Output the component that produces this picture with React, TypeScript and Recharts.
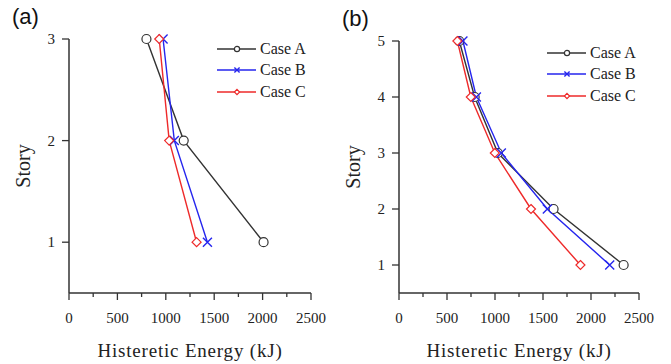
import { LineChart, Line, XAxis, YAxis, Label, Legend } from 'recharts';

// story levels
const storiesA = [1, 2, 3];
const storiesB = [1, 2, 3, 4, 5];

// panel (a) hysteretic energy per story (kJ)
const a_caseA = [2010, 1185, 800];
const a_caseB = [1430, 1088, 972];
const a_caseC = [1318, 1035, 932];

// panel (b)
const b_caseA = [2340, 1610, 1030, 788, 628];
const b_caseB = [2195, 1545, 1066, 806, 666];
const b_caseC = [1890, 1375, 998, 748, 608];

const energyTicks = [0, 250, 500, 750, 1000, 1250, 1500, 1750, 2000, 2250, 2500];
const caseNames = ['Case A', 'Case B', 'Case C'];

const COLORS = ['#333333', '#2525ee', '#ee2a2a'];
const SERIF = '"Liberation Serif", "Times New Roman", serif';
const AXIS = '#333';

const toPoints = (stories: number[], vals: number[]) =>
  stories.map((s, i) => ({ s, e: vals[i] }));

function Marker({ kind, cx, cy, r, color }: any) {
  if (cx == null || cy == null) return null;
  if (kind === 0) {
    return <circle cx={cx} cy={cy} r={r} fill="#fff" stroke={color} strokeWidth={1.2} />;
  }
  if (kind === 1) {
    return (
      <path
        d={`M${cx - r},${cy - r}L${cx + r},${cy + r}M${cx - r},${cy + r}L${cx + r},${cy - r}`}
        stroke={color}
        strokeWidth={1.4}
        fill="none"
      />
    );
  }
  return (
    <path
      d={`M${cx},${cy - r}L${cx + r},${cy}L${cx},${cy + r}L${cx - r},${cy}Z`}
      fill="#fff"
      stroke={color}
      strokeWidth={1.2}
    />
  );
}

function XTick({ x, y, payload }: any) {
  const major = payload.value % 500 === 0;
  return (
    <g>
      <line x1={x} y1={y} x2={x} y2={y + (major ? 7 : 4)} stroke={AXIS} strokeWidth={1.3} />
      {major && (
        <text x={x} y={y + 30} textAnchor="middle" fontSize={15} fontFamily={SERIF} fill="#222">
          {payload.value}
        </text>
      )}
    </g>
  );
}

function YTick({ x, y, payload }: any) {
  return (
    <g>
      <line x1={x - 7} y1={y} x2={x} y2={y} stroke={AXIS} strokeWidth={1.3} />
      <text x={x - 14} y={y + 5} textAnchor="end" fontSize={15} fontFamily={SERIF} fill="#222">
        {payload.value}
      </text>
    </g>
  );
}

function LegendBox() {
  return (
    <div style={{ fontFamily: SERIF, fontSize: 16, color: '#222' }}>
      {caseNames.map((name, i) => (
        <div key={name} style={{ display: 'flex', alignItems: 'center', height: 21.5 }}>
          <svg width={40} height={12} style={{ display: 'block' }}>
            <line x1={0} y1={6} x2={39} y2={6} stroke={COLORS[i]} strokeWidth={1.4} />
            <Marker kind={i} cx={20} cy={6} r={2.6} color={COLORS[i]} />
          </svg>
          <span style={{ marginLeft: 3, whiteSpace: 'nowrap' }}>{name}</span>
        </div>
      ))}
    </div>
  );
}

interface PanelProps {
  tag: string;
  width: number;
  margin: { top: number; right: number; bottom: number; left: number };
  yAxisWidth: number;
  stories: number[];
  series: number[][];
  legendPos: { left: number; top: number };
  tagPos: { left: number; top: number };
}

function Panel({ tag, width, margin, yAxisWidth, stories, series, legendPos, tagPos }: PanelProps) {
  const plotTop = margin.top;
  const plotBottom = 364 - 71;
  const maxStory = stories[stories.length - 1];
  return (
    <div style={{ position: 'relative', width, height: 364 }}>
      <LineChart width={width} height={364} margin={margin}>
        <XAxis
          type="number"
          dataKey="e"
          domain={[0, 2500]}
          ticks={energyTicks}
          interval={0}
          height={71}
          tickSize={0}
          tickMargin={0}
          tickLine={false}
          tick={<XTick />}
          axisLine={{ stroke: AXIS, strokeWidth: 1.5 }}
        >
          <Label
            content={({ viewBox }: any) => (
              <text
                x={viewBox.x + viewBox.width / 2}
                y={357}
                textAnchor="middle"
                fontSize={19}
                letterSpacing={0.8}
                fontFamily={SERIF}
                fill="#222"
              >
                Histeretic Energy (kJ)
              </text>
            )}
          />
        </XAxis>
        <YAxis
          type="number"
          dataKey="s"
          domain={[0.5, maxStory]}
          ticks={stories}
          interval={0}
          width={yAxisWidth}
          tickSize={0}
          tickMargin={0}
          tickLine={false}
          tick={<YTick />}
          axisLine={{ stroke: AXIS, strokeWidth: 1.5 }}
        >
          <Label
            content={() => (
              <text
                x={yAxisWidth - 46}
                y={(plotTop + plotBottom) / 2}
                transform={`rotate(-90 ${yAxisWidth - 46} ${(plotTop + plotBottom) / 2})`}
                textAnchor="middle"
                dominantBaseline="central"
                fontSize={20}
                fontFamily={SERIF}
                fill="#222"
              >
                Story
              </text>
            )}
          />
        </YAxis>
        <Legend
          layout="vertical"
          align="center"
          verticalAlign="middle"
          wrapperStyle={{ left: legendPos.left, top: legendPos.top, width: 110 }}
          content={() => <LegendBox />}
        />
        {series.map((vals, i) => (
          <Line
            key={caseNames[i]}
            name={caseNames[i]}
            data={toPoints(stories, vals)}
            dataKey="s"
            stroke={COLORS[i]}
            strokeWidth={1.4}
            isAnimationActive={false}
            dot={(p: any) => <Marker key={`${i}-${p.index}`} kind={i} cx={p.cx} cy={p.cy} r={4.5} color={COLORS[i]} />}
            activeDot={false}
          />
        ))}
      </LineChart>
      <div
        style={{
          position: 'absolute',
          left: tagPos.left,
          top: tagPos.top,
          fontFamily: '"Liberation Sans", Arial, sans-serif',
          fontSize: 22,
          lineHeight: '26px',
          color: '#111',
        }}
      >
        {tag}
      </div>
    </div>
  );
}

export default function App() {
  return (
    <div style={{ width: 671, height: 364, marginLeft: -8, marginTop: -8, display: 'flex', background: '#fff' }}>
      <Panel
        tag="(a)"
        width={335}
        margin={{ top: 39, right: 24, bottom: 0, left: 0 }}
        yAxisWidth={69}
        stories={storiesA}
        series={[a_caseA, a_caseB, a_caseC]}
        legendPos={{ left: 217, top: 38 }}
        tagPos={{ left: 12, top: 4 }}
      />
      <Panel
        tag="(b)"
        width={336}
        margin={{ top: 41, right: 32, bottom: 0, left: 0 }}
        yAxisWidth={64}
        stories={storiesB}
        series={[b_caseA, b_caseB, b_caseC]}
        legendPos={{ left: 212, top: 42 }}
        tagPos={{ left: 7, top: 6 }}
      />
    </div>
  );
}
